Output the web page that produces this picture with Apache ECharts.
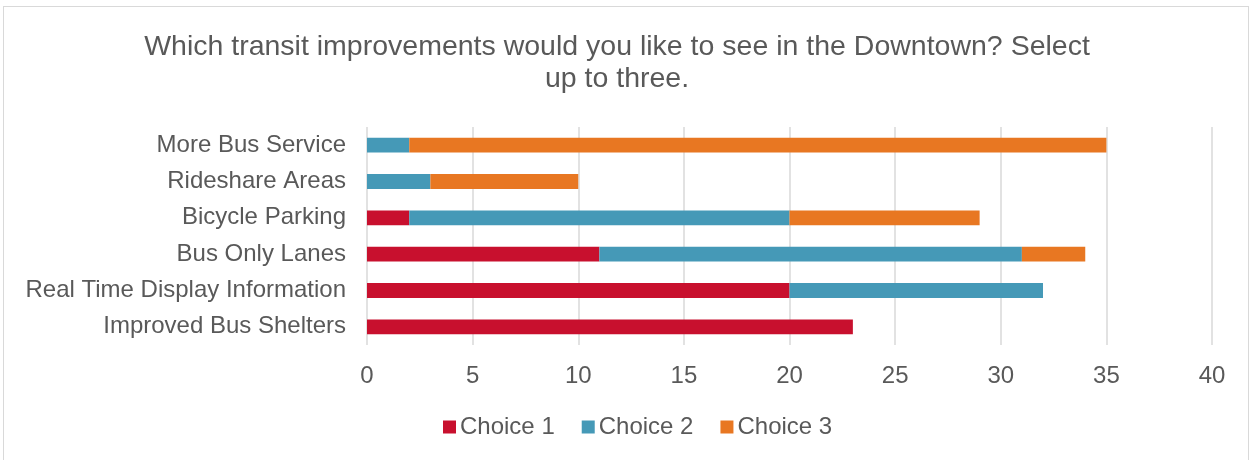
<!DOCTYPE html>
<html>
<head>
<meta charset="utf-8">
<script src="https://cdn.jsdelivr.net/npm/echarts@6/dist/echarts.min.js"></script>
<style>
  html, body { margin: 0; padding: 0; background: #fff; }
  #frame { position: absolute; left: 3px; top: 6px; width: 1246px; height: 460px; border: 1px solid #d9d9d9; box-sizing: border-box; }
  #chart { position: absolute; left: 0; top: 0; width: 1252px; height: 460px; }
</style>
</head>
<body>
<div id="frame"></div>
<div id="chart"></div>
<script>
// Survey answers, listed bottom-to-top as drawn on the category axis
const categories = [
  'Improved Bus Shelters',
  'Real Time Display Information',
  'Bus Only Lanes',
  'Bicycle Parking',
  'Rideshare Areas',
  'More Bus Service'
];
const choice1 = [23, 20, 11, 2, 0, 0];
const choice2 = [0, 12, 20, 18, 3, 2];
const choice3 = [0, 0, 3, 9, 7, 33];
const seriesNames = ['Choice 1', 'Choice 2', 'Choice 3'];
const seriesColors = ['#C8102E', '#4599B7', '#E87722'];

const textColor = '#595959';
const fontFamily = '"Liberation Sans", Arial, sans-serif';

const chart = echarts.init(document.getElementById('chart'), null, { renderer: 'canvas' });

const values = [choice1, choice2, choice3];
chart.setOption({
  animation: false,
  textStyle: { fontFamily: fontFamily },
  title: {
    text: 'Which transit improvements would you like to see in the Downtown? Select\nup to three.',
    left: 612,
    textAlign: 'center',
    top: 26,
    textStyle: { color: textColor, fontSize: 28.5, fontWeight: 'normal', lineHeight: 32, fontFamily: fontFamily }
  },
  legend: {
    data: seriesNames,
    top: 410,
    left: 438,
    itemWidth: 13,
    itemHeight: 13,
    itemGap: 27,
    icon: 'rect',
    textStyle: { color: textColor, fontSize: 24, fontFamily: fontFamily, padding: [0, 0, 0, -1] }
  },
  grid: { left: 367, right: 40, top: 127, height: 218, containLabel: false },
  xAxis: {
    type: 'value',
    min: 0,
    max: 40,
    interval: 5,
    axisLine: { show: false },
    axisTick: { show: false },
    axisLabel: { color: textColor, fontSize: 24, margin: 19, fontFamily: fontFamily },
    splitLine: { lineStyle: { color: '#d9d9d9', width: 1.5 } }
  },
  yAxis: {
    type: 'category',
    data: categories,
    axisLine: { show: false },
    axisTick: { show: false },
    axisLabel: { color: textColor, fontSize: 24, margin: 21, fontFamily: fontFamily, padding: [4, 0, 0, 0] }
  },
  series: values.map((v, i) => ({
    name: seriesNames[i],
    type: 'bar',
    stack: 'total',
    data: v,
    barCategoryGap: '59%',
    itemStyle: { color: seriesColors[i] }
  }))
});
</script>
</body>
</html>
